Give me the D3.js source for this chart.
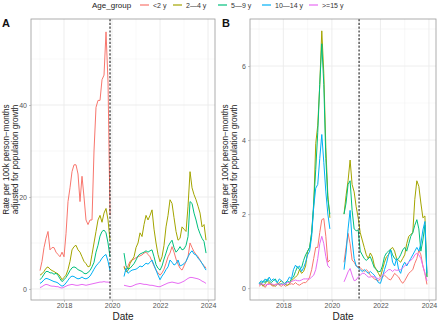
<!DOCTYPE html>
<html><head><meta charset="utf-8">
<script src="https://cdn.jsdelivr.net/npm/d3@7"></script>
<style>body{margin:0;background:#fff}svg{display:block;font-family:"Liberation Sans",Arial,sans-serif}</style>
</head><body><svg id="c" width="440" height="322"></svg>
<script>
const groups = ["<2 y","2\u20144 y","5\u20149 y","10\u201414 y",">=15 y"];
const colors = ["#F8766D","#A3A500","#00BF7D","#00B0F6","#E76BF3"];
const xTicks = [2018,2020,2022,2024];
const yTicksA = [0,20,40];
const yTicksB = [0,2,4,6];
const cutA = 2019.917, cutB = 2021.12;
const N = null;
// monthly, Jan 2017 .. Dec 2023 (null = gap Jan-Jun 2020)
const A_lt2 = [4,6,9,11,12.5,8.5,9,9,8,7.5,7,8, 7,12,19,22,25.5,27,27,25,19,24.5,20,15, 14,15,15,30,39.5,41,41,45.5,46.5,55.9,45,16, N,N,N,N,N,N,5,4,5,6,6.3,6.5, 6.8,7,7.2,7.4,7.8,8,7.5,7,6,5,4.1,3.5, 3,3.5,4.3,5.6,7,7.8,9.2,8,6.5,5.4,4.5,4.1, 5,6,7,10,9,8.1,7.5,7,6.3,5.5,5.1,4.5];
const A_2to4 = [3,3.3,3.8,4.5,4.8,4.3,4,3.8,3.5,3.3,2.8,2, 2.5,3,4.2,6,8.5,9.2,9.5,8.5,8,7,6,5.5, 4.8,5,7.5,10,12.5,15,16,14.5,16.5,17.5,15,10.5, N,N,N,N,N,N,4.8,3.7,4,5.5,6.3,7, 9,10,12.2,11.4,14,16,15,16,17.2,13,10,7.5, 5.9,7,9.5,13.5,16,19.4,18.6,15.5,12.5,10.6,11,13.5, 13,12.5,18,25.5,22,20.5,19.4,18,16.5,13.5,14,10.6];
const A_5to9 = [2,2.5,3.2,3.8,3.8,3.5,3.5,3.2,3.4,3,2.2,1.6, 2,2.5,3.2,4,4.6,4.8,4.6,4.2,4,3.8,3.4,3.3, 3.6,4,4.8,5.8,8,9.5,11.5,12.5,12.8,12.2,10,7, N,N,N,N,N,N,7.8,5,4.3,4.5,5,5.5, 6.3,7.2,7.6,7.8,8,8.3,8,8.3,8.5,7,5.3,4.5, 4.1,5,6.5,7.8,9.2,10,10.6,9,8,8.5,9.2,8.5, 8.7,9.5,11.4,19,18.6,16.5,15,13.2,12,11,10.3,7.8];
const A_10to14 = [1.2,1.5,2,2.3,2.2,2,1.8,1.6,1.5,1.3,0.9,0.6, 0.8,1.3,1.9,2.5,2.8,2.7,2.4,2.2,2.3,2.6,2.3,2.2, 2.4,2.8,3.5,4.3,5,5.5,6,6.7,7.2,7.5,6,4, N,N,N,N,N,N,2.7,4.5,3.4,3.8,4.1,4.2, 4.3,4.6,5,4.8,5.2,5.6,5.4,5.8,6.3,5.2,4.1,3, 2,2.8,3.4,4.2,4.8,6.3,5.8,5.2,5.5,6.3,5,5.2, 5.5,6,7,7.8,8.3,7.6,7.4,6.7,6.2,5.6,4.8,4.1];
const A_ge15 = [0.3,0.5,0.8,1,0.9,0.7,0.6,0.6,0.5,0.5,0.3,0.2, 0.4,0.6,0.8,0.9,1,0.9,0.8,0.8,0.9,1,0.9,0.8, 0.9,1,1.1,1.2,1.3,1.4,1.5,1.5,1.6,1.5,1.5,1.4, N,N,N,N,N,N,0.8,0.7,0.6,0.5,0.6,0.8, 1,1.1,1.2,1.1,1,1,0.9,0.8,0.8,0.7,0.6,0.5, 0.5,0.7,0.9,1.1,1.3,1.4,1.5,1.4,1.3,1.2,1.3,1.5, 1.7,2,2.3,2.5,2.5,2.4,2.3,2.2,2,1.7,1.5,1.2];
const B_lt2 = [0.05,0.1,0.08,0.02,0.1,0.15,0.08,0.05,0.1,0.12,0.08,0.05, 0.1,0.05,0.08,0.1,0.12,0.1,0.15,0.1,0.08,0.12,0.15,0.15, 0.2,0.3,0.5,0.8,1.1,1.1,1.5,1.85,1.88,1.4,0.7,0.76, N,N,N,N,N,N,0.7,1.1,1.48,1.2,0.76,0.7, 0.6,0.58,0.55,0.5,0.45,0.5,0.45,0.35,0.3,0.25,0.22,0.2, 0.25,0.3,0.35,0.3,0.25,0.22,0.3,0.4,0.35,0.3,0.2,0.13, 0.2,0.3,0.4,0.45,0.5,0.67,0.8,1.03,0.9,0.6,0.4,0.1];
const B_2to4 = [0.1,0.15,0.05,0.12,0.2,0.15,0.1,0.08,0.05,0.1,0.15,0.2, 0.15,0.1,0.08,0.12,0.2,0.25,0.3,0.35,0.5,0.4,0.45,0.6, 1,1.1,1.5,2.2,3.9,4.4,5.5,6.95,5.8,3.8,2.5,1.9, N,N,N,N,N,N,2,2.5,2.9,3.46,2.8,2.6, 2.2,1.9,1.5,1.3,1.1,0.9,0.8,0.95,0.85,0.6,0.5,0.4, 0.3,0.5,0.7,0.85,0.9,1.05,1.1,1,0.8,0.75,0.7,0.8, 0.9,1.2,1.4,1.45,1.5,2.4,2.9,2.75,2.3,1.9,1.95,0.3];
const B_5to9 = [0.15,0.1,0.2,0.15,0.25,0.2,0.15,0.2,0.25,0.15,0.1,0.12, 0.1,0.15,0.2,0.15,0.25,0.3,0.45,0.58,0.5,0.55,0.75,0.9, 1,1.1,1.5,2.3,3.2,4.2,5.5,6.6,5.5,3.5,2.4,2, N,N,N,N,N,N,2,2.3,2.8,2.9,2.1,1.6, 1.55,1.57,1,0.9,0.8,0.75,0.8,0.85,0.7,0.55,0.5,0.45, 0.45,0.6,0.85,0.95,1,1.05,0.9,0.8,0.76,0.8,0.9,1.03, 1.1,1,1.2,1.4,1.5,1.7,1.85,1.6,1,1.3,1.7,0.3];
const B_10to14 = [0.12,0.2,0.15,0.25,0.18,0.3,0.2,0.25,0.2,0.15,0.25,0.2, 0.15,0.1,0.2,0.3,0.25,0.5,0.62,0.55,0.6,0.45,0.55,0.7, 0.9,1,1.4,2.2,2.7,2.8,3.5,4.15,3.4,2.6,2,1.6, N,N,N,N,N,N,0.5,0.95,1.6,2.1,1.3,0.8, 0.6,0.55,0.5,0.45,0.5,0.45,0.4,0.45,0.4,0.35,0.25,0.15, 0.13,0.3,0.5,0.67,0.9,1.03,0.7,0.6,0.8,0.5,0.4,0.6, 0.7,0.6,0.7,0.8,0.9,1,1.1,1,1.2,1.57,1.8,0.4];
const B_ge15 = [0.1,0.12,0.1,0.08,0.1,0.1,0.12,0.1,0.08,0.1,0.12,0.1, 0.1,0.12,0.15,0.15,0.18,0.2,0.22,0.2,0.2,0.22,0.25,0.25, 0.25,0.25,0.3,0.35,0.5,0.8,1.2,1.4,1.2,0.85,0.6,0.55, N,N,N,N,N,N,0.17,0.3,0.44,0.53,0.35,0.2, 0.22,0.3,0.35,0.4,0.4,0.35,0.3,0.3,0.32,0.3,0.28,0.25, 0.3,0.35,0.4,0.45,0.5,0.5,0.45,0.5,0.48,0.49,0.5,0.55, 0.6,0.65,0.7,0.75,0.8,0.9,0.94,0.9,0.8,0.6,0.4,0.2];

const months = d3.range(84).map(i => 2017 + i/12);
const svg = d3.select("#c");

function panel(cfg){
  const {left,right,top,bottom,yDomain,yTicks,yMinor,series,cut,label,ttlX} = cfg;
  const x = d3.scaleLinear().domain([2016.625,2024.29]).range([left,right]);
  const y = d3.scaleLinear().domain(yDomain).range([bottom,top]);
  const g = svg.append("g");
  [2017,2019,2021,2023].forEach(v=>g.append("line").attr("x1",x(v)).attr("x2",x(v)).attr("y1",top).attr("y2",bottom).attr("stroke","#f0f0f0").attr("stroke-width",0.5));
  yMinor.forEach(v=>g.append("line").attr("x1",left).attr("x2",right).attr("y1",y(v)).attr("y2",y(v)).attr("stroke","#f0f0f0").attr("stroke-width",0.5));
  xTicks.forEach(v=>g.append("line").attr("x1",x(v)).attr("x2",x(v)).attr("y1",top).attr("y2",bottom).attr("stroke","#ebebeb").attr("stroke-width",0.9));
  yTicks.forEach(v=>g.append("line").attr("x1",left).attr("x2",right).attr("y1",y(v)).attr("y2",y(v)).attr("stroke","#ebebeb").attr("stroke-width",0.9));
  const line = d3.line().defined(d=>d[1]!=null).x(d=>x(d[0])).y(d=>y(d[1]));
  series.forEach((s,i)=>{
    g.append("path").datum(months.map((m,j)=>[m,s[j]])).attr("d",line)
     .attr("fill","none").attr("stroke",colors[i]).attr("stroke-width",1).attr("stroke-linejoin","round");
  });
  g.append("line").attr("x1",x(cut)).attr("x2",x(cut)).attr("y1",top).attr("y2",bottom)
   .attr("stroke","#333").attr("stroke-width",1.2).attr("stroke-dasharray","2.2,1.6");
  g.append("rect").attr("x",left).attr("y",top).attr("width",right-left).attr("height",bottom-top)
   .attr("fill","none").attr("stroke","#9a9a9a").attr("stroke-width",0.8);
  const ax = g.append("g").attr("transform",`translate(0,${bottom})`)
   .call(d3.axisBottom(x).tickValues(xTicks).tickFormat(d3.format("d")).tickSize(2).tickPadding(1.5));
  const ay = g.append("g").attr("transform",`translate(${left},0)`)
   .call(d3.axisLeft(y).tickValues(yTicks).tickFormat(d3.format("d")).tickSize(2).tickPadding(2));
  [ax,ay].forEach(a=>{a.select(".domain").remove();
    a.selectAll("line").attr("stroke","#9a9a9a").attr("stroke-width",0.6);
    a.selectAll("text").attr("fill","#555").style("font-size","7px").style("font-family","Liberation Sans, Arial");});
  g.append("text").attr("x",(left+right)/2).attr("y",320).attr("text-anchor","middle")
   .style("font-size","10px").attr("fill","#222").text("Date");
  const ty = g.append("text").attr("transform",`translate(${ttlX},${(top+bottom)/2}) rotate(-90)`)
   .attr("text-anchor","middle").style("font-size","8.2px").attr("fill","#222");
  ty.append("tspan").attr("x",0).attr("dy",0).text("Rate per 100k person\u2212months");
  ty.append("tspan").attr("x",0).attr("dy","1.12em").text("adjusted for population growth");
  svg.append("text").attr("x",label[1]).attr("y",27).style("font-size","11px").style("font-weight","bold").attr("fill","#111").text(label[0]);
}

panel({left:31,right:215,top:19,bottom:300,yDomain:[-2.4,58.7],yTicks:yTicksA,yMinor:[10,30,50],
  series:[A_lt2,A_2to4,A_5to9,A_10to14,A_ge15],cut:cutA,label:["A",2],ttlX:9});
panel({left:250,right:436,top:19,bottom:300,yDomain:[-0.32,7.27],yTicks:yTicksB,yMinor:[1,3,5,7],
  series:[B_lt2,B_2to4,B_5to9,B_10to14,B_ge15],cut:cutB,label:["B",222],ttlX:228});

const lg = svg.append("g");
lg.append("text").attr("x",92).attr("y",8).style("font-size","8px").attr("fill","#222").text("Age_group");
const keyX = [140,173,218,262,309];
groups.forEach((gname,i)=>{
  lg.append("line").attr("x1",keyX[i]).attr("x2",keyX[i]+9).attr("y1",5).attr("y2",5).attr("stroke",colors[i]).attr("stroke-width",1.2);
  lg.append("text").attr("x",keyX[i]+13).attr("y",8).style("font-size","7px").attr("fill","#333").text(gname);
});
</script></body></html>
